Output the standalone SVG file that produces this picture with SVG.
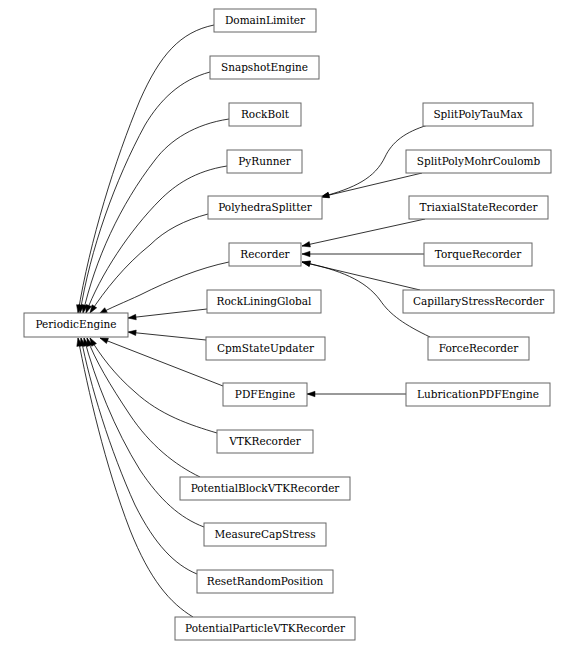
<svg xmlns="http://www.w3.org/2000/svg" width="578" height="650" viewBox="0 0 578 650">
<style>
.n rect{fill:#fff;stroke:#666;stroke-width:1}
.n text{font-family:"DejaVu Serif",serif;font-size:10.5px;text-anchor:middle;fill:#000}
#edges path{fill:none;stroke:#000;stroke-width:0.8;marker-end:url(#ah)}
</style>
<defs>
<marker id="ah" markerUnits="userSpaceOnUse" markerWidth="9" markerHeight="6" refX="8" refY="2.75" orient="auto" overflow="visible">
<path d="M0,0 L8,2.75 L0,5.5 z" fill="#000" stroke="#000" stroke-width="0.5"/>
</marker>
</defs>
<rect width="578" height="650" fill="#fff"/>
<g id="edges">
<path d="M214,25 C180,32 160,55 140,100 C115,160 90,240 78,313"/>
<path d="M210,72 C180,80 160,100 145,125 C115,180 90,250 80,313"/>
<path d="M229,119 C195,124 170,140 155,160 C120,205 95,260 83,313"/>
<path d="M227,166 C195,171 175,185 160,200 C130,230 100,275 86,313"/>
<path d="M208,214 C185,220 165,230 150,245 C125,265 105,290 90,313"/>
<path d="M229,262 C200,268 170,280 140,295 C125,302 110,308 99,314"/>
<path d="M207,309 L128,318"/>
<path d="M206,340 L128,332"/>
<path d="M223,386 L100,338"/>
<path d="M217,433 C190,425 160,415 135,392 C115,375 100,355 90,338"/>
<path d="M200,477 C175,465 150,445 130,415 C110,385 95,360 87,338"/>
<path d="M204,527 C180,518 160,500 140,470 C115,430 95,380 84,338"/>
<path d="M197,574 C175,565 155,545 135,505 C110,450 90,385 81,338"/>
<path d="M193,617 C170,603 150,580 130,530 C105,465 88,390 78,338"/>
<path d="M428,125 C405,132 392,142 385,157 C375,178 355,188 321,197"/>
<path d="M422,173 L321,197"/>
<path d="M425,219 L302,246"/>
<path d="M424,254 L302,254"/>
<path d="M420,290 L302,262"/>
<path d="M430,337 C405,325 390,315 380,300 C365,280 340,270 302,262"/>
<path d="M406,394 L307,394"/>
</g>
<g id="PeriodicEngine" class="n"><rect x="24" y="313" width="104" height="24"/><text x="76" y="328">PeriodicEngine</text></g>
<g id="DomainLimiter" class="n"><rect x="214" y="9" width="102" height="23"/><text x="265" y="23.5">DomainLimiter</text></g>
<g id="SnapshotEngine" class="n"><rect x="210" y="56" width="109" height="23"/><text x="264.5" y="70.5">SnapshotEngine</text></g>
<g id="RockBolt" class="n"><rect x="229" y="103" width="72" height="23"/><text x="265" y="117.5">RockBolt</text></g>
<g id="PyRunner" class="n"><rect x="227" y="150" width="75" height="23"/><text x="264.5" y="164.5">PyRunner</text></g>
<g id="PolyhedraSplitter" class="n"><rect x="208" y="196" width="114" height="23"/><text x="265" y="210.5">PolyhedraSplitter</text></g>
<g id="Recorder" class="n"><rect x="229" y="243" width="72" height="23"/><text x="265" y="257.5">Recorder</text></g>
<g id="RockLiningGlobal" class="n"><rect x="207" y="290" width="114" height="23"/><text x="264" y="304.5">RockLiningGlobal</text></g>
<g id="CpmStateUpdater" class="n"><rect x="206" y="337" width="119" height="23"/><text x="265.5" y="351.5">CpmStateUpdater</text></g>
<g id="PDFEngine" class="n"><rect x="223" y="383" width="84" height="23"/><text x="265" y="397.5">PDFEngine</text></g>
<g id="VTKRecorder" class="n"><rect x="217" y="430" width="96" height="23"/><text x="265" y="444.5">VTKRecorder</text></g>
<g id="PotentialBlockVTKRecorder" class="n"><rect x="180" y="477" width="170" height="23"/><text x="265" y="491.5">PotentialBlockVTKRecorder</text></g>
<g id="MeasureCapStress" class="n"><rect x="204" y="523" width="122" height="23"/><text x="265" y="537.5">MeasureCapStress</text></g>
<g id="ResetRandomPosition" class="n"><rect x="197" y="570" width="136" height="23"/><text x="265" y="584.5">ResetRandomPosition</text></g>
<g id="PotentialParticleVTKRecorder" class="n"><rect x="175" y="617" width="180" height="23"/><text x="265" y="631.5">PotentialParticleVTKRecorder</text></g>
<g id="SplitPolyTauMax" class="n"><rect x="423" y="103" width="110" height="23"/><text x="478" y="117.5">SplitPolyTauMax</text></g>
<g id="SplitPolyMohrCoulomb" class="n"><rect x="406" y="150" width="145" height="23"/><text x="478.5" y="164.5">SplitPolyMohrCoulomb</text></g>
<g id="TriaxialStateRecorder" class="n"><rect x="409" y="196" width="139" height="23"/><text x="478.5" y="210.5">TriaxialStateRecorder</text></g>
<g id="TorqueRecorder" class="n"><rect x="424" y="243" width="108" height="23"/><text x="478" y="257.5">TorqueRecorder</text></g>
<g id="CapillaryStressRecorder" class="n"><rect x="403" y="290" width="151" height="23"/><text x="478.5" y="304.5">CapillaryStressRecorder</text></g>
<g id="ForceRecorder" class="n"><rect x="428" y="337" width="101" height="23"/><text x="478.5" y="351.5">ForceRecorder</text></g>
<g id="LubricationPDFEngine" class="n"><rect x="406" y="383" width="144" height="23"/><text x="478" y="397.5">LubricationPDFEngine</text></g>
</svg>
